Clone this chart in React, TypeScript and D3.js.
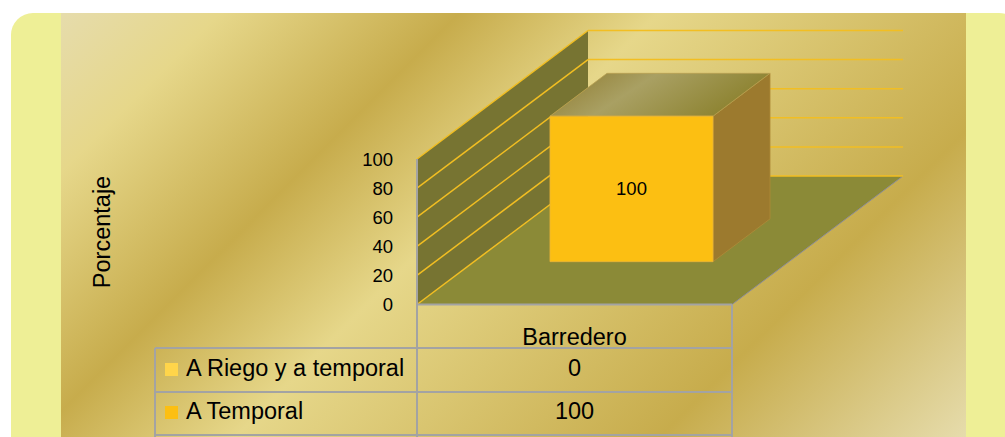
import React from "react";
import * as d3 from "d3";

const categories = ["Barredero"];
const seriesNames = ["A Riego y a temporal", "A Temporal"];
const riegoValues = [0];
const temporalValues = [100];
const seriesColors = ["#FFD54A", "#FCBF12"];
const yTicks = [0, 20, 40, 60, 80, 100];
const yTitle = "Porcentaje";

const FONT = "'Liberation Sans', Arial, sans-serif";

export default function App() {
  const W = 1005;
  const H = 437;
  const x0 = 417;
  const x1 = 732;
  const DX = 171;
  const DY = -128.5;
  const y = d3.scaleLinear().domain([0, 100]).range([304.5, 159]);
  const xBand = d3.scaleBand<string>().domain(categories).range([x0, x1]).paddingInner(0).paddingOuter(0.466);
  const proj = (x: number, v: number, d: number): [number, number] => [x + DX * d, y(v) + DY * d];
  const poly = (pts: [number, number][]) => pts.map((p) => p.join(",")).join(" ");

  const rows = categories.map((c, i) => ({ cat: c, s0: riegoValues[i], s1: temporalValues[i] }));
  const stack = d3.stack<any>().keys(["s0", "s1"])(rows);

  const grid = "#F2BE22";
  const tableLine = "#A3A3A3";
  const dA = 1 / 3;
  const dB = 2 / 3;

  const tableRows = [
    { name: seriesNames[0], color: seriesColors[0], vals: riegoValues, yb: 376, sq: 363 },
    { name: seriesNames[1], color: seriesColors[1], vals: temporalValues, yb: 419, sq: 406 },
  ];

  return (
    <svg width={W} height={H} style={{ position: "fixed", left: 0, top: 0 }} fontFamily={FONT}>
      <defs>
        <linearGradient id="gold" gradientUnits="userSpaceOnUse" x1={61} y1={13} x2={725.5} y2={677.5}>
          <stop offset="0" stopColor="#E6DCAC" />
          <stop offset="0.12" stopColor="#E6D78A" />
          <stop offset="0.30" stopColor="#C7AC4C" />
          <stop offset="0.45" stopColor="#E6D78A" />
          <stop offset="0.77" stopColor="#C7AC4C" />
          <stop offset="1" stopColor="#E6DCAC" />
        </linearGradient>
        <linearGradient id="topFace" x1="0" y1="0" x2="1" y2="0.3">
          <stop offset="0" stopColor="#8E7A2E" />
          <stop offset="0.45" stopColor="#A9A063" />
          <stop offset="1" stopColor="#8C822F" />
        </linearGradient>
      </defs>
      <rect x={0} y={0} width={W} height={H} fill="#FFFFFF" />
      <rect x={11} y={13} width={1010} height={450} rx={22} ry={22} fill="#EEEF96" />
      <rect x={61} y={13} width={905} height={430} fill="url(#gold)" />

      {/* floor */}
      <polygon points={poly([proj(x0, 0, 0), proj(x1, 0, 0), proj(x1, 0, 1), proj(x0, 0, 1)])} fill="#8B8A37" />
      <line x1={proj(x1, 0, 0)[0]} y1={proj(x1, 0, 0)[1]} x2={proj(x1, 0, 1)[0]} y2={proj(x1, 0, 1)[1]} stroke="#8E8E9C" strokeWidth={1} />
      {/* left wall */}
      <polygon points={poly([proj(x0, 0, 0), proj(x0, 100, 0), proj(x0, 100, 1), proj(x0, 0, 1)])} fill="#777432" />

      {yTicks.map((v) => {
        const a = proj(x0, v, 0);
        const b = proj(x0, v, 1);
        const c = proj(x1, v, 1);
        return (
          <g key={v}>
            <line x1={a[0]} y1={a[1]} x2={b[0]} y2={b[1]} stroke={grid} strokeWidth={1.5} />
            <line x1={b[0]} y1={b[1]} x2={c[0]} y2={c[1]} stroke={grid} strokeWidth={1.5} />
          </g>
        );
      })}

      {/* bars */}
      {stack.map((layer, si) =>
        layer.map((seg, ci) => {
          const v0 = seg[0];
          const v1 = seg[1];
          if (v1 - v0 <= 0) return null;
          const bx0 = xBand(categories[ci]) as number;
          const bx1 = bx0 + xBand.bandwidth();
          const front = [proj(bx0, v0, dA), proj(bx1, v0, dA), proj(bx1, v1, dA), proj(bx0, v1, dA)] as [number, number][];
          const side = [proj(bx1, v0, dA), proj(bx1, v0, dB), proj(bx1, v1, dB), proj(bx1, v1, dA)] as [number, number][];
          const top = [proj(bx0, v1, dA), proj(bx1, v1, dA), proj(bx1, v1, dB), proj(bx0, v1, dB)] as [number, number][];
          const cx = (front[0][0] + front[1][0]) / 2;
          const cy = (front[0][1] + front[2][1]) / 2;
          return (
            <g key={`${si}-${ci}`}>
              <polygon points={poly(side)} fill="#9C7A2E" stroke="#B08A38" strokeWidth={0.8} />
              <polygon points={poly(top)} fill="url(#topFace)" stroke="#B8A050" strokeWidth={0.8} />
              <polygon points={poly(front)} fill={seriesColors[si]} stroke="#E8B43A" strokeWidth={0.8} />
              <text x={cx} y={cy} dy="0.35em" textAnchor="middle" fontSize={18.5} fill="#000">
                {v1 - v0}
              </text>
            </g>
          );
        })
      )}

      {/* y ticks */}
      {yTicks.map((v) => (
        <text key={v} x={393} y={y(v)} dy="0.36em" textAnchor="end" fontSize={18.5} fill="#000">
          {v}
        </text>
      ))}

      {/* y title */}
      <text transform="translate(110,232) rotate(-90)" textAnchor="middle" fontSize={23.5} fill="#000">
        {yTitle}
      </text>

      {/* data table */}
      <line x1={x0} y1={y(100)} x2={x0} y2={437} stroke={tableLine} strokeWidth={2} />
      <line x1={x1} y1={y(0)} x2={x1} y2={437} stroke={tableLine} strokeWidth={2} />
      <line x1={x0} y1={y(0)} x2={x1} y2={y(0)} stroke={tableLine} strokeWidth={2} />
      <line x1={155} y1={348} x2={155} y2={437} stroke={tableLine} strokeWidth={2} />
      {[348, 392, 435].map((ly) => (
        <line key={ly} x1={155} y1={ly} x2={x1} y2={ly} stroke={tableLine} strokeWidth={2} />
      ))}
      {categories.map((c) => (
        <text key={c} x={(xBand(c) as number) + xBand.bandwidth() / 2} y={345} textAnchor="middle" fontSize={23.5} fill="#000">
          {c}
        </text>
      ))}
      {tableRows.map((r) => (
        <g key={r.name}>
          <rect x={165} y={r.sq} width={13} height={13} fill={r.color} />
          <text x={186} y={r.yb} fontSize={23.5} fill="#000">
            {r.name}
          </text>
          {categories.map((c, i) => (
            <text key={c} x={(xBand(c) as number) + xBand.bandwidth() / 2} y={r.yb} textAnchor="middle" fontSize={23.5} fill="#000">
              {r.vals[i]}
            </text>
          ))}
        </g>
      ))}
    </svg>
  );
}
